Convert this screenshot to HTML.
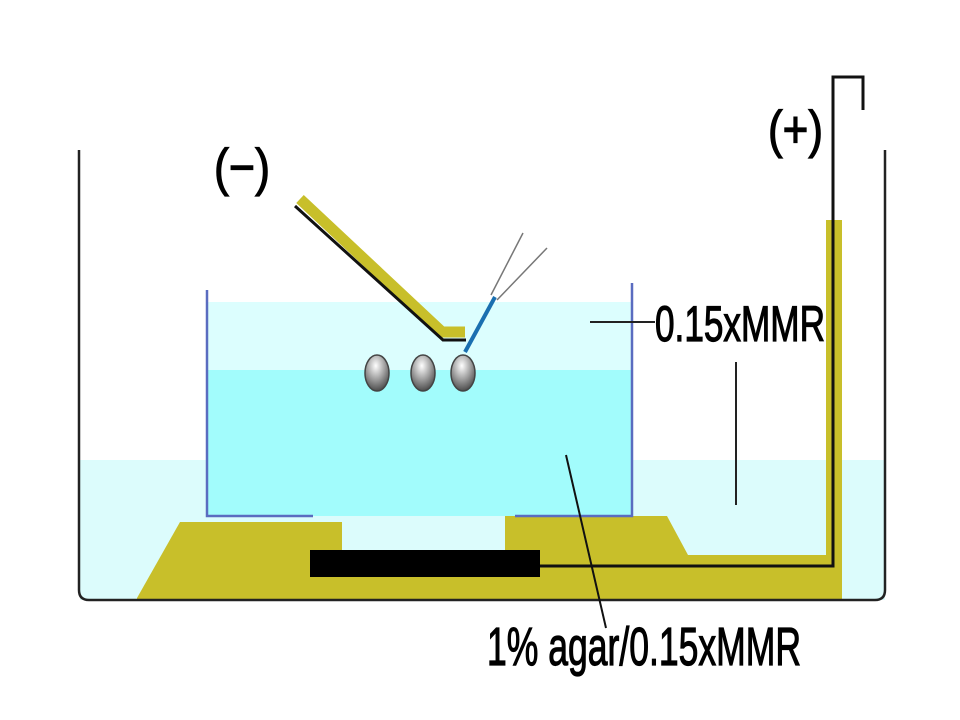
<!DOCTYPE html>
<html><head><meta charset="utf-8"><style>html,body{margin:0;padding:0;background:#fff}svg{display:block}</style></head>
<body>
<svg width="960" height="720" viewBox="0 0 960 720" xmlns="http://www.w3.org/2000/svg">
<defs>
<radialGradient id="egg" cx="0.45" cy="0.3" r="0.8">
<stop offset="0" stop-color="#ffffff"/><stop offset="0.5" stop-color="#9a9a9a"/><stop offset="1" stop-color="#333"/>
</radialGradient>
</defs>
<rect x="80" y="460" width="805" height="140" fill="#dcfcfc"/>
<rect x="208" y="302" width="424" height="68" fill="#dcfefe"/>
<rect x="208" y="370" width="424" height="146" fill="#a2fcfc"/>
<g fill="#c8bf2a">
<polygon points="137,598 180,522 342,522 342,600 137,600"/>
<rect x="342" y="550" width="165" height="50"/>
<polygon points="505,516 667,516 688,555 826,555 826,220 842,220 842,600 505,600"/>
</g>
<g stroke="#5a6cc0" stroke-width="2.5" fill="none">
<polyline points="207,290 207,516 313,516"/>
<polyline points="515,516 632,516 632,283"/>
</g>
<rect x="310" y="550" width="230" height="27" fill="#000"/>
<polyline points="540,566 833,566 833,77 863,77 863,110" stroke="#111" stroke-width="3" fill="none"/>
<path d="M79,150 L79,590 Q79,600 89,600 L875,600 Q885,600 885,590 L885,150" stroke="#222" stroke-width="2.5" fill="none"/>
<polyline points="300,199 442,332 465,332" stroke="#c8bf2a" stroke-width="11" fill="none"/>
<polyline points="295,206 443,340 466,340" stroke="#111" stroke-width="3" fill="none"/>
<line x1="465" y1="352" x2="495" y2="297" stroke="#1a6fb0" stroke-width="4"/>
<line x1="491" y1="295" x2="523" y2="233" stroke="#777" stroke-width="1.5"/>
<line x1="497" y1="300" x2="547" y2="248" stroke="#777" stroke-width="1.5"/>
<ellipse cx="377" cy="373" rx="12" ry="18" fill="url(#egg)" stroke="#444" stroke-width="1.5"/>
<ellipse cx="423" cy="373" rx="12" ry="18" fill="url(#egg)" stroke="#444" stroke-width="1.5"/>
<ellipse cx="463" cy="373" rx="12" ry="18" fill="url(#egg)" stroke="#444" stroke-width="1.5"/>
<line x1="590" y1="322" x2="655" y2="322" stroke="#222" stroke-width="2"/>
<line x1="736" y1="362" x2="736" y2="505" stroke="#222" stroke-width="2"/>
<line x1="566" y1="455" x2="606" y2="628" stroke="#111" stroke-width="2"/>
<g font-family="'Liberation Sans', sans-serif" fill="#000" stroke="#000" stroke-width="1.2">
<text x="214" y="185" font-size="52" textLength="56" lengthAdjust="spacingAndGlyphs">(−)</text>
<text x="768" y="147" font-size="52" textLength="55" lengthAdjust="spacingAndGlyphs">(+)</text>
<text x="655" y="341" font-size="50" textLength="170" lengthAdjust="spacingAndGlyphs">0.15xMMR</text>
<text x="487" y="665" font-size="54" textLength="314" lengthAdjust="spacingAndGlyphs">1% agar/0.15xMMR</text>
</g>
</svg>
</body></html>
